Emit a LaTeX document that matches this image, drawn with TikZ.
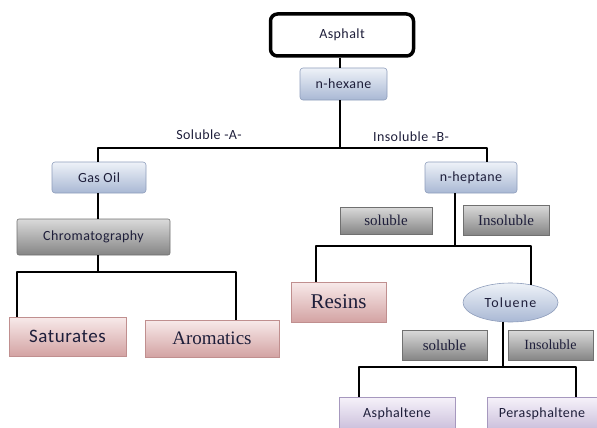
\documentclass[tikz,border=0pt]{standalone}
\usepackage{fontspec}
\setmainfont{Carlito}[LetterSpace=3]
\newfontfamily\serifc{Liberation Serif}
\usetikzlibrary{shapes.geometric}
\definecolor{txt}{HTML}{1E1E3A}
\definecolor{bluetop}{HTML}{EEF2F8}
\definecolor{bluebot}{HTML}{A9B8D4}
\definecolor{blueedge}{HTML}{8E9DBB}
\definecolor{graytop}{HTML}{DADADA}
\definecolor{graybot}{HTML}{858585}
\definecolor{grayedge}{HTML}{707070}
\definecolor{pinktop}{HTML}{F8EAEA}
\definecolor{pinkbot}{HTML}{D3A3A3}
\definecolor{pinkedge}{HTML}{C08F8F}
\definecolor{lavtop}{HTML}{F6F2FA}
\definecolor{lavbot}{HTML}{C9BDDA}
\definecolor{lavedge}{HTML}{A698BE}
\tikzset{
  box/.style={rectangle, inner sep=0pt, align=center, text=txt, font=\fontsize{14}{16}\selectfont},
  bluebox/.style={box, rounded corners=3pt, draw=blueedge, line width=0.6pt, top color=bluetop, bottom color=bluebot},
  graybox/.style={box, rounded corners=2pt, draw=grayedge, line width=0.6pt, top color=graytop, bottom color=graybot},
  pinkbox/.style={box, draw=pinkedge, line width=0.6pt, top color=pinktop, bottom color=pinkbot},
  lavbox/.style={box, draw=lavedge, line width=0.6pt, top color=lavtop, bottom color=lavbot},
  serifbox/.style={font=\serifc\fontsize{15}{17}\selectfont},
  conn/.style={line width=2.8pt, line join=round},
  lbl/.style={font=\fontsize{14}{16}\selectfont, text=txt, inner sep=1pt}
}
\begin{document}
\begin{tikzpicture}[x=1pt,y=-1pt]
\useasboundingbox (0,0) rectangle (597,428);
% nodes
\node[box, draw=black, line width=3.5pt, rounded corners=7pt, fill=white, minimum width=143pt, minimum height=42pt] (asph) at (342,35) {Asphalt};
\node[bluebox, minimum width=87pt, minimum height=32pt] (hex) at (343.5,84) {n-hexane};
\node[bluebox, minimum width=94pt, minimum height=31pt] (gas) at (99,177.5) {Gas Oil};
\node[graybox, minimum width=153pt, minimum height=36pt] (chrom) at (93.5,237) {Chromatography};
\node[pinkbox, minimum width=117pt, minimum height=39pt, font=\fontsize{19}{21}\selectfont] (sat) at (67.5,336.5) {Saturates};
\node[pinkbox, minimum width=134pt, minimum height=37pt, font=\serifc\fontsize{19}{21}\selectfont] (aro) at (212,338.5) {Aromatics};
\node[bluebox, minimum width=92pt, minimum height=31pt] (hep) at (471,177.5) {n-heptane};
\node[graybox, serifbox, rounded corners=0pt, minimum width=92pt, minimum height=27pt] (sol1) at (386,220.5) {soluble};
\node[graybox, serifbox, rounded corners=0pt, minimum width=86pt, minimum height=30pt] (ins1) at (506,220) {Insoluble};
\node[pinkbox, minimum width=95pt, minimum height=40pt, font=\serifc\fontsize{21}{23}\selectfont] (res) at (338.5,302) {Resins};
\node[ellipse, draw=blueedge, line width=0.6pt, top color=bluetop, bottom color=bluebot, minimum width=95pt, minimum height=39pt, inner sep=0pt, text=txt, font=\fontsize{14}{16}\selectfont\addfontfeature{LetterSpace=8}] (tol) at (510.5,302.5) {Toluene};
\node[graybox, serifbox, rounded corners=0pt, minimum width=85pt, minimum height=30pt] (sol2) at (444.5,345) {soluble};
\node[graybox, serifbox, rounded corners=0pt, minimum width=85pt, minimum height=30pt, font=\serifc\fontsize{14}{16}\selectfont] (ins2) at (550.5,345) {Insoluble};
\node[lavbox, minimum width=116pt, minimum height=34pt] (asphn) at (397,414) {Asphaltene};
\node[lavbox, minimum width=110pt, minimum height=34pt] (pera) at (542,414) {Perasphaltene};
% labels
\node[lbl] (la) at (209,135) {Soluble -A-};
\node[lbl] (lb) at (411,137) {Insoluble -B-};
% junction coordinates
\coordinate (jA) at (98,148);
\coordinate (jB) at (487,148);
\coordinate (jHex) at (340,148);
\coordinate (jC) at (98,272);
\coordinate (jCl) at (17,272);
\coordinate (jCr) at (236,272);
\coordinate (jH) at (455,246);
\coordinate (jHl) at (316,246);
\coordinate (jHr) at (531,246);
\coordinate (tolIn) at (531,285);
\coordinate (jT) at (503,367);
\coordinate (jTl) at (359,367);
\coordinate (jTr) at (576,367);
% connectors
\draw[conn] (asph.south -| jHex) -- (hex.north -| jHex);
\draw[conn] (hex.south -| jHex) -- (jHex);
\draw[conn] (gas.north -| jA) -- (jA) -- (jB) -- (hep.north -| jB);
\draw[conn] (gas.south -| jA) -- (chrom.north -| jA);
\draw[conn] (chrom.south -| jC) -- (jC);
\draw[conn] (sat.north -| jCl) -- (jCl) -- (jCr) -- (aro.north -| jCr);
\draw[conn] (hep.south -| jH) -- (jH);
\draw[conn] (res.north -| jHl) -- (jHl) -- (jHr) -- (tolIn);
\draw[conn] (tol.south -| jT) -- (jT);
\draw[conn] (asphn.north -| jTl) -- (jTl) -- (jTr) -- (pera.north -| jTr);
\end{tikzpicture}
\end{document}
